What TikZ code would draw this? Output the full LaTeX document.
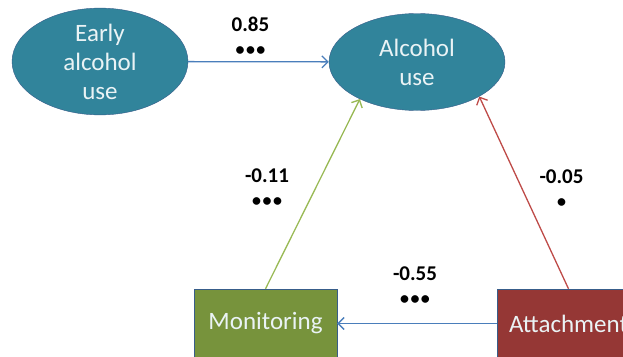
\documentclass[tikz,border=0pt]{standalone}
\usepackage{fontspec}
\setmainfont{Carlito}
\usetikzlibrary{shapes.geometric,arrows.meta}
\definecolor{ovalfill}{HTML}{31849B}
\definecolor{rim}{HTML}{385D8A}
\definecolor{monfill}{HTML}{77933C}
\definecolor{attfill}{HTML}{953735}
\definecolor{nodetext}{HTML}{EAF3F5}
\definecolor{arrblue}{HTML}{4A7EBB}
\definecolor{arrgreen}{HTML}{98B954}
\definecolor{arrred}{HTML}{BE4B48}
\newcommand{\dotsig}[1]{{\fontsize{18}{25}\selectfont#1}}
\newcommand{\sigone}{\dotsig{•}}
\newcommand{\sigthree}{\dotsig{•\kern1.5pt•\kern1.5pt•}}
\begin{document}
\begin{tikzpicture}[x=1pt, y=-1pt,
	oval/.style = {draw=rim, fill=ovalfill, ellipse, inner sep=0pt, minimum width=176pt, minimum height=97pt, text=nodetext, align=center, font=\fontsize{25}{29}\selectfont},
	box/.style = {draw=rim, rectangle, inner sep=0pt, minimum width=143pt, minimum height=69pt, text=nodetext, font=\fontsize{25}{29}\selectfont},
	lbl/.style = {inner sep=1pt, align=center, font=\bfseries\fontsize{21}{24}\selectfont},
	link/.style = {-{Straight Barb[length=6pt,width=12pt]}, line width=1.3pt}]
	\useasboundingbox (0,0) rectangle (623,356);
	\clip (0,0) rectangle (623,356);
	\node[oval] (early) at (100,61.5) {Early\\alcohol\\use};
	\node[oval] (alc) at (417,62) {Alcohol\\use};
	\node[box, fill=monfill] (mon) at (265.5,323.5) {Monitoring};
	\node[box, fill=attfill] (att) at (568.5,323.5) {Attachment};
	\draw[link, draw=arrblue] (early) -- (alc) node [midway, above=5pt, xshift=-8pt, lbl] {0.85\\\sigthree};
	\draw[link, draw=arrgreen] (mon.north) -- (alc.213) node [midway, left=22pt, yshift=6.5pt, lbl] {-0.11\\\sigthree};
	\draw[link, draw=arrred] (att.north) -- (alc.331) node [midway, right=14pt, yshift=4pt, lbl] {-0.05\\\sigone};
	\draw[link, draw=arrblue] (att) -- (mon) node [midway, above=17pt, xshift=-2pt, lbl] {-0.55\\\sigthree};
\end{tikzpicture}
\end{document}
